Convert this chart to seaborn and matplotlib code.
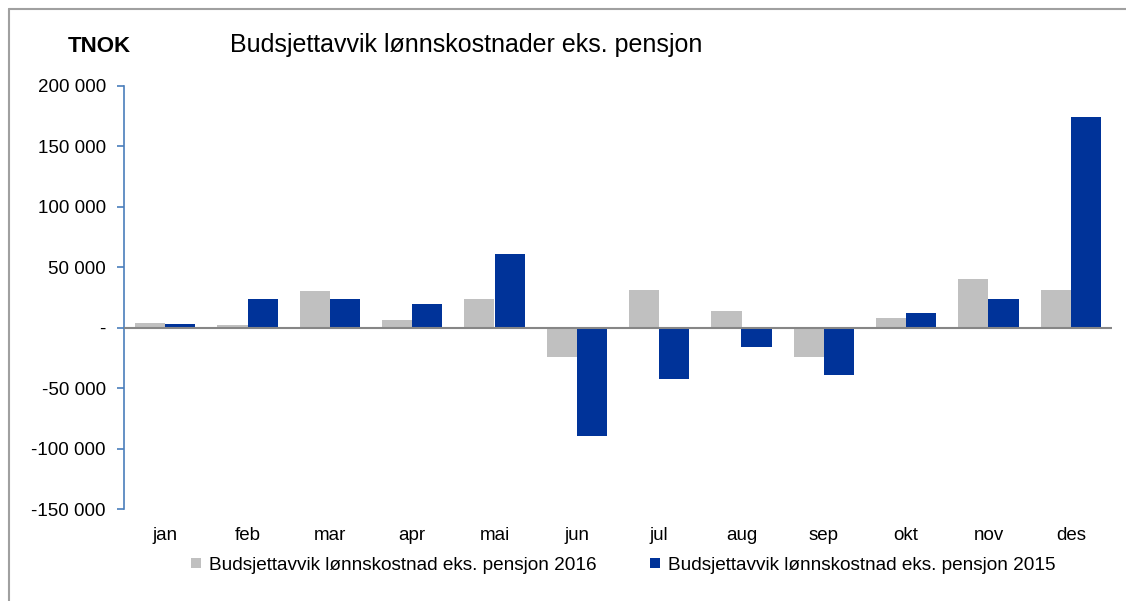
import matplotlib
matplotlib.use("Agg")
import matplotlib.pyplot as plt
from matplotlib.lines import Line2D
from matplotlib.ticker import FuncFormatter, MultipleLocator
import seaborn as sns
import pandas as pd

months = ["jan", "feb", "mar", "apr", "mai", "jun", "jul", "aug", "sep", "okt", "nov", "des"]
series_2016 = [3500, 2000, 30000, 6500, 24000, -24500, 31500, 14000, -24500, 7700, 40500, 31500]
series_2015 = [3000, 24000, 24000, 19500, 61000, -90000, -42500, -16000, -39500, 12000, 24000, 174500]
label_2016 = "Budsjettavvik lønnskostnad eks. pensjon 2016"
label_2015 = "Budsjettavvik lønnskostnad eks. pensjon 2015"
title = "Budsjettavvik lønnskostnader eks. pensjon"
unit = "TNOK"

df = pd.DataFrame({
    "month": months * 2,
    "value": series_2016 + series_2015,
    "series": [label_2016] * len(months) + [label_2015] * len(months),
})

sns.set_theme(style="white")
plt.rcParams["font.family"] = ["Liberation Sans", "DejaVu Sans"]
plt.rcParams["text.color"] = "black"

fig = plt.figure(figsize=(11.26, 6.01), dpi=100)
ax = fig.add_axes([124 / 1126, 1 - 509 / 601, (1112 - 124) / 1126, (509 - 86) / 601])

palette = {label_2016: "#c0c0c0", label_2015: "#003399"}
hue_order = [label_2016, label_2015]
sns.barplot(data=df, x="month", y="value", hue="series", order=months,
            hue_order=hue_order, palette=palette, width=0.73,
            saturation=1, ax=ax, legend=False, linewidth=0)

ax.set_ylim(-150000, 200000)
ax.set_xlim(-0.5, 11.5)
ax.yaxis.set_major_locator(MultipleLocator(50000))

def fmt(v, pos):
    if abs(v) < 1:
        return "-"
    s = f"{abs(int(round(v))):,}".replace(",", " ")
    return ("-" if v < 0 else "") + s

ax.yaxis.set_major_formatter(FuncFormatter(fmt))
ax.axhline(0, color="#868686", lw=1.5, zorder=3)

for side in ["top", "right", "bottom"]:
    ax.spines[side].set_visible(False)
ax.spines["left"].set_color("#4a7ebb")
ax.spines["left"].set_linewidth(1.2)
ax.tick_params(axis="y", which="major", left=True, length=5, width=1.2,
               color="#4a7ebb", labelsize=13.5, labelcolor="black", pad=8, direction="out")
ax.tick_params(axis="x", bottom=False, labelsize=13.5, labelcolor="black", pad=7)
ax.set_xlabel("")
ax.set_ylabel("")
ax.grid(False)

handles = [Line2D([], [], marker="s", linestyle="", markersize=6.5,
                  markerfacecolor=palette[h], markeredgewidth=0) for h in hue_order]
leg = fig.legend(handles, hue_order, loc="center", bbox_to_anchor=(624 / 1126, 1 - 565 / 601),
                 ncol=2, frameon=False, fontsize=13.7, handlelength=0.4,
                 handletextpad=0.45, columnspacing=2.9)
for t in leg.get_texts():
    t.set_color("black")

fig.text(68 / 1126, 1 - 47 / 601, unit, fontsize=16, fontweight="bold", va="center", ha="left",
         color="black")
fig.text(230 / 1126, 1 - 45 / 601, title, fontsize=18, va="center", ha="left", color="black")

fig.add_artist(Line2D([9 / 1126, 9 / 1126], [0, 1 - 9 / 601], color="#a0a0a0", lw=1.5))
fig.add_artist(Line2D([9 / 1126, 1], [1 - 9 / 601, 1 - 9 / 601], color="#a0a0a0", lw=1.5))

fig.savefig("out.png", dpi=100, facecolor="white")
